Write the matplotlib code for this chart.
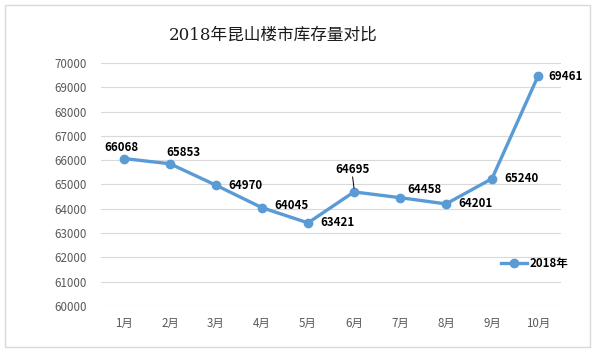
import matplotlib
matplotlib.use("Agg")
import matplotlib.pyplot as plt
from matplotlib.patches import Rectangle

plt.rcParams['font.family'] = ['Noto Sans CJK SC', 'DejaVu Sans']

months = ["1月", "2月", "3月", "4月", "5月", "6月", "7月", "8月", "9月", "10月"]
stock = [66068, 65853, 64970, 64045, 63421, 64695, 64458, 64201, 65240, 69461]
yticks = list(range(60000, 70001, 1000))
# label offsets in pixels (dx, dy, ha)
label_pos = [(-3, 11, 'center'), (13, 11, 'center'), (12, 0, 'left'), (12, 2, 'left'),
             (12, 0, 'left'), (-1, 22, 'center'), (7, 8, 'left'), (12, 0, 'left'),
             (12, 0, 'left'), (10, 0, 'left')]

color = '#5B9BD5'

fig = plt.figure(figsize=(5.95, 3.54), dpi=100)
fig.patches.append(Rectangle((5 / 595, 1 - 347 / 354), 585 / 595, 342 / 354,
                             transform=fig.transFigure, fill=False,
                             edgecolor='#D9D9D9', linewidth=1))
ax = fig.add_axes([101 / 595, 1 - 306 / 354, 460 / 595, 243 / 354])

x = list(range(len(months)))
ax.plot(x, stock, color=color, linewidth=2.4, marker='o', markersize=6, label='2018年')

for i, v in enumerate(stock):
    dx, dy, ha = label_pos[i]
    ax.annotate(str(v), (i, v), xytext=(dx, dy), textcoords='offset pixels',
                ha=ha, va='center', fontsize=8.3, fontweight='bold', color='#000000')
# leader line for 6月
ax.annotate('', (5, stock[5] + 150), xytext=(5 - 0.03, stock[5] + 620),
            arrowprops=dict(arrowstyle='-', color='black', lw=0.7,
                            shrinkA=0, shrinkB=0))

ax.set_xlim(-0.5, len(months) - 0.5)
ax.set_ylim(60000, 70000)
ax.set_yticks(yticks)
ax.set_xticks(x)
ax.set_xticklabels(months)
ax.tick_params(axis='both', length=0, labelsize=8.3, labelcolor='#595959')
ax.tick_params(axis='x', pad=8)
ax.tick_params(axis='y', pad=10)
ax.grid(axis='y', color='#D9D9D9', linewidth=0.8)
ax.set_axisbelow(True)
for s in ax.spines.values():
    s.set_visible(False)

fig.text(0.459, 1 - 35 / 354, '2018年昆山楼市库存量对比', ha='center', va='center',
         fontsize=12, color='#1a1a1a', family=['DejaVu Serif', 'Noto Sans CJK SC'])

ax.legend(loc='center', bbox_to_anchor=(535 / 595, 1 - 264 / 354),
          bbox_transform=fig.transFigure, frameon=False,
          handlelength=2.2, handletextpad=0.3, prop={'weight': 'bold', 'size': 8.3})

fig.savefig('out.png', dpi=100, facecolor='white')
